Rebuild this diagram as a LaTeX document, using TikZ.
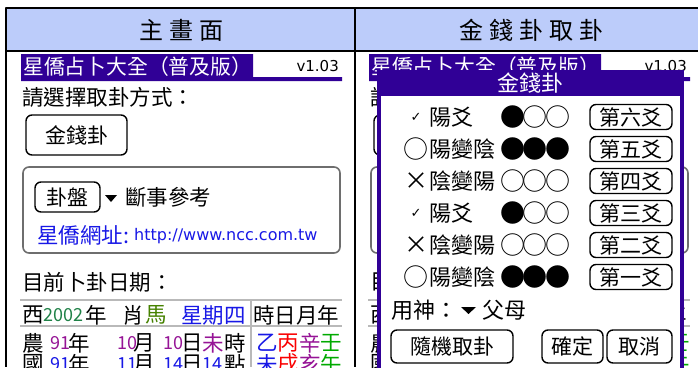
\documentclass[tikz,border=0pt]{standalone}
\usepackage{fontspec}
\setmainfont{Noto Sans CJK TC}
\newfontfamily\symfont{DejaVu Sans}
\newfontfamily\headfont[LetterSpace=25]{Noto Sans CJK TC}
\newfontfamily\coinfont[LetterSpace=-10]{Noto Sans CJK TC}
\definecolor{headblue}{RGB}{188,204,250}
\definecolor{palmblue}{RGB}{48,0,150}
\definecolor{linkblue}{RGB}{24,24,230}
\definecolor{yeargreen}{RGB}{32,130,72}
\definecolor{horsegreen}{RGB}{70,130,0}
\definecolor{ganpurple}{RGB}{150,20,150}
\definecolor{ganred}{RGB}{250,0,0}
\definecolor{gangreen}{RGB}{0,170,0}
\definecolor{rulegrey}{RGB}{185,185,185}
\definecolor{boxgrey}{RGB}{110,110,110}
\begin{document}
\begin{tikzpicture}[x=1pt,y=-1pt,line join=round,
  txt/.style={inner sep=0pt,anchor=west,font=\fontsize{21.5}{21.5}\selectfont},
  titletxt/.style={txt,text=white,font=\fontsize{20.8}{20.8}\selectfont},
  num/.style={txt,font=\fontsize{18}{18}\selectfont},
  lat/.style={txt,font=\symfont\fontsize{15}{15}\selectfont},
  dlg/.style={txt,font=\fontsize{22}{22}\selectfont},
  coin/.style={txt,font=\coinfont\fontsize{25}{25}\selectfont},
  chk/.style={inner sep=0pt,font=\symfont\fontsize{13}{13}\selectfont},
  ring/.style={inner sep=0pt,font=\coinfont\fontsize{25}{25}\selectfont},
  cross/.style={inner sep=0pt,font=\fontsize{24}{24}\selectfont},
  btn/.style={draw,line width=1.4pt,rounded corners=6pt,inner sep=0pt,font=\fontsize{21}{21}\selectfont},
  head/.style={inner sep=0pt,font=\headfont\fontsize{24}{24}\selectfont},
  groupbox/.style={boxgrey,line width=1.6pt,rounded corners=6pt},
  rule/.style={rulegrey,line width=1.6pt}]
\clip (0,0) rectangle (698,367);
\fill[white] (0,0) rectangle (698,367);
% table head
\fill[headblue] (6,8) rectangle (698,51);
\node[head] (hmain) at (181,30) {主畫面};
\node[head] (hcoin) at (531,30) {金錢卦取卦};
\draw[line width=2.4pt] (698,8) -- (6,8) -- (6,367);
\draw[line width=2pt] (6,51) -- (698,51) (355,8) -- (355,367);
% main screen
\fill[palmblue] (21,54) rectangle (253,81) (21,77) rectangle (342,81);
\node[titletxt] (title) at (23,67) {星僑占卜大全（普及版）};
\node[lat,anchor=east] (ver) at (339,66) {v1.03};
\node[txt] (ask) at (22,97) {請選擇取卦方式：};
\node[btn,minimum width=101,minimum height=40] (coinbtn) at (76.5,135) {金錢卦};
\draw[groupbox] (23,167) rectangle (340,253);
\node[btn,minimum width=65,minimum height=30] (panbtn) at (67.5,197) {卦盤};
\fill (105,195) -- (117,195) -- (111,202) -- cycle;
\node[txt] (refer) at (125,197) {斷事參考};
\node[txt,text=linkblue] (site) at (37,235) {星僑網址:};
\node[lat,text=linkblue,font=\symfont\fontsize{16}{16}\selectfont] (url) at (134,236) {http://www.ncc.com.tw};
\node[txt] (date) at (22,282) {目前卜卦日期：};
\draw[rule] (20,300) -- (342,300) (20,326) -- (342,326) (251,300) -- (251,367);
\foreach \x/\st/\c/\t [count=\i] in {22/txt/black/西, 43/num/yeargreen/2002, 85/txt/black/年,
    122/txt/black/肖, 145/txt/horsegreen/馬, 181/txt/linkblue/星期四, 253/txt/black/時日月年}
  \node[\st,text=\c] (ra\i) at (\x,315) {\t};
\foreach \x/\st/\c/\t [count=\i] in {22/txt/black/農, 50/num/ganpurple/91, 68/txt/black/年,
    117/num/ganpurple/10, 133/txt/black/月, 163/num/ganpurple/10, 181/txt/black/日,
    202/txt/ganpurple/未, 224/txt/black/時, 256/txt/linkblue/乙, 277/txt/ganred/丙,
    299/txt/ganpurple/辛, 320/txt/gangreen/壬}
  \node[\st,text=\c] (rb\i) at (\x,343) {\t};
\foreach \x/\st/\c/\t [count=\i] in {22/txt/black/國, 50/num/linkblue/91, 68/txt/black/年,
    117/num/linkblue/11, 133/txt/black/月, 163/num/linkblue/14, 181/txt/black/日,
    202/num/linkblue/14, 224/txt/black/點, 256/txt/linkblue/未, 277/txt/ganred/戌,
    299/txt/ganpurple/亥, 320/txt/gangreen/午}
  \node[\st,text=\c] (rc\i) at (\x,364) {\t};
% same screen behind the dialog, only its edges show
\begin{scope}[xshift=348pt]
\fill[palmblue] (21,54) rectangle (253,81) (21,77) rectangle (342,81);
\node[titletxt] (btitle) at (23,67) {星僑占卜大全（普及版）};
\node[lat,anchor=east] (bver) at (339,66) {v1.03};
\node[txt] (bask) at (22,97) {請};
\node[btn,minimum width=101,minimum height=40] (bcoinbtn) at (76.5,135) {};
\draw[groupbox] (23,167) rectangle (340,253);
\node[txt] (bdate) at (22,282) {目};
\draw[rule] (20,300) -- (342,300) (20,326) -- (342,326);
\node[txt] (bra1) at (22,315) {西};
\node[txt] (bra2) at (317.5,315) {年};
\node[txt] (brb1) at (22,343) {農};
\node[txt,text=gangreen] (brb2) at (320,343) {壬};
\node[txt] (brc1) at (22,364) {國};
\node[txt,text=gangreen] (brc2) at (320,364) {午};
\end{scope}
% coin dialog
\fill[palmblue] (377,70) rectangle (684,370);
\fill[white] (381,96) rectangle (680,370);
\node[dlg,anchor=center,text=white] (dlgtitle) at (530,83) {金錢卦};
\foreach \y/\ms/\m/\t/\c/\n [count=\i] in {117/chk/✓/陽爻/●○○/六, 149/ring/○/陽變陰/●●●/五,
    181/cross/×/陰變陽/○○○/四, 213/chk/✓/陽爻/●○○/三, 245/cross/×/陰變陽/○○○/二,
    277/ring/○/陽變陰/●●●/一}{
  \node[\ms] (mark\i) at (416,\y) {\m};
  \node[dlg] (yao\i) at (429,\y) {\t};
  \node[coin] (coins\i) at (500,\y) {\c};
  \node[btn,minimum width=82,minimum height=25] (yaobtn\i) at (631,\y) {第\n 爻};
}
\node[dlg] (yongshen) at (391,310) {用神：};
\fill (461,307) -- (476,307) -- (468.5,314) -- cycle;
\node[dlg] (parent) at (482,310) {父母};
\node[btn,minimum width=122,minimum height=33] (random) at (452,346.5) {隨機取卦};
\node[btn,minimum width=61,minimum height=33] (confirm) at (572.5,346.5) {確定};
\node[btn,minimum width=65,minimum height=33] (cancel) at (639.5,346.5) {取消};
\end{tikzpicture}
\end{document}
